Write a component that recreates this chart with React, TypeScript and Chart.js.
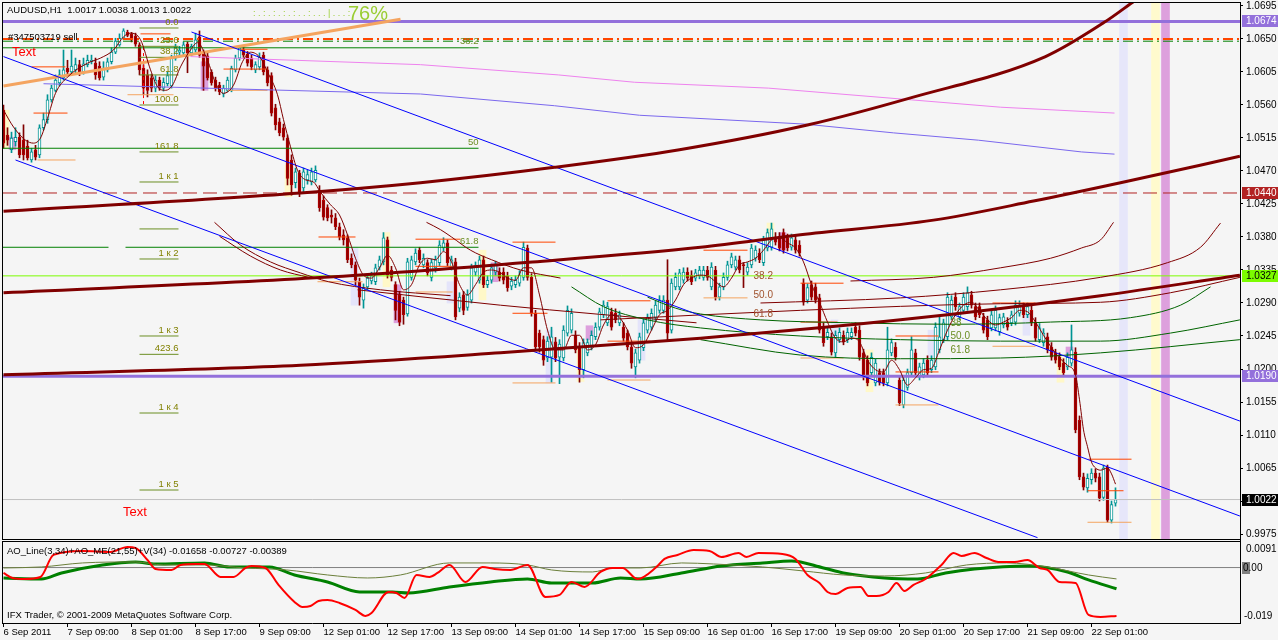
import React, { useEffect, useRef } from "react";
import { Chart, registerables } from "chart.js";

Chart.register(...registerables);

// ---------------- axis labels ----------------
const xTickLabels = ["6 Sep 2011", "7 Sep 09:00", "8 Sep 01:00", "8 Sep 17:00", "9 Sep 09:00", "12 Sep 01:00", "12 Sep 17:00", "13 Sep 09:00", "14 Sep 01:00", "14 Sep 17:00", "15 Sep 09:00", "16 Sep 01:00", "16 Sep 17:00", "19 Sep 09:00", "20 Sep 01:00", "20 Sep 17:00", "21 Sep 09:00", "22 Sep 01:00"];
const yTickValues = [0.9975, 1.0020, 1.0065, 1.0110, 1.0155, 1.0200, 1.0245, 1.0290, 1.0335, 1.0380, 1.0425, 1.0470, 1.0515, 1.0560, 1.0605, 1.0650, 1.0695];

// ---------------- AUDUSD H1 candles ----------------
const opens = [
1.0553,1.0519,1.0499,1.0510,1.0516,1.0512,1.0504,1.0485,1.0499,1.0492,
1.0529,1.0540,1.0567,1.0580,1.0590,1.0597,1.0610,1.0605,1.0608,1.0615,
1.0605,1.0615,1.0619,1.0617,1.0613,1.0598,1.0608,1.0619,1.0632,1.0642,
1.0651,1.0659,1.0657,1.0654,1.0642,1.0610,1.0601,1.0597,1.0583,1.0594,
1.0583,1.0589,1.0586,1.0624,1.0632,1.0631,1.0643,1.0631,1.0635,1.0653,
1.0629,1.0627,1.0605,1.0594,1.0587,1.0575,1.0580,1.0580,1.0608,1.0624,
1.0635,1.0629,1.0624,1.0608,1.0612,1.0628,1.0608,1.0600,1.0556,1.0537,
1.0529,1.0515,1.0485,1.0454,1.0467,1.0447,1.0458,1.0455,1.0458,1.0444,
1.0430,1.0420,1.0410,1.0406,1.0394,1.0383,1.0379,1.0351,1.0342,1.0319,
1.0294,1.0312,1.0320,1.0319,1.0339,1.0346,1.0376,1.0335,1.0315,1.0301,
1.0294,1.0275,1.0325,1.0346,1.0362,1.0342,1.0345,1.0325,1.0338,1.0345,
1.0365,1.0372,1.0339,1.0346,1.0283,1.0301,1.0284,1.0294,1.0332,1.0321,
1.0349,1.0315,1.0321,1.0332,1.0332,1.0332,1.0327,1.0313,1.0315,1.0317,
1.0325,1.0365,1.0325,1.0276,1.0249,1.0240,1.0215,1.0216,1.0237,1.0216,
1.0215,1.0249,1.0253,1.0246,1.0230,1.0199,1.0222,1.0230,1.0244,1.0257,
1.0274,1.0263,1.0278,1.0276,1.0263,1.0257,1.0249,1.0230,1.0203,1.0212,
1.0229,1.0253,1.0257,1.0270,1.0280,1.0280,1.0294,1.0253,1.0312,1.0312,
1.0321,1.0332,1.0328,1.0324,1.0327,1.0325,1.0335,1.0312,1.0335,1.0298,
1.0312,1.0325,1.0342,1.0339,1.0349,1.0342,1.0332,1.0342,1.0351,1.0358,
1.0345,1.0365,1.0366,1.0380,1.0380,1.0386,1.0379,1.0366,1.0376,1.0369,
1.0317,1.0294,1.0315,1.0312,1.0297,1.0257,1.0244,1.0244,1.0222,1.0240,
1.0246,1.0240,1.0244,1.0257,1.0253,1.0222,1.0212,1.0195,1.0181,1.0195,
1.0195,1.0181,1.0222,1.0230,1.0185,1.0151,1.0175,1.0195,1.0222,1.0189,
1.0192,1.0212,1.0199,1.0203,1.0226,1.0240,1.0244,1.0271,1.0298,1.0271,
1.0280,1.0285,1.0301,1.0285,1.0285,1.0271,1.0267,1.0256,1.0256,1.0251,
1.0260,1.0264,1.0263,1.0264,1.0276,1.0285,1.0274,1.0280,1.0264,1.0240,
1.0236,1.0244,1.0230,1.0222,1.0216,1.0208,1.0203,1.0208,1.0223,1.0130,
1.0053,1.0038,1.0049,1.0058,1.0053,1.0025,1.0066,0.9994,1.0017];
const highs = [
1.0560,1.0529,1.0523,1.0529,1.0522,1.0533,1.0512,1.0501,1.0505,1.0533,
1.0549,1.0574,1.0587,1.0601,1.0608,1.0635,1.0621,1.0635,1.0624,1.0621,
1.0624,1.0628,1.0628,1.0624,1.0619,1.0619,1.0624,1.0638,1.0651,1.0657,
1.0664,1.0662,1.0659,1.0658,1.0645,1.0615,1.0608,1.0602,1.0600,1.0598,
1.0597,1.0605,1.0628,1.0643,1.0640,1.0646,1.0646,1.0643,1.0658,1.0661,
1.0635,1.0632,1.0608,1.0598,1.0591,1.0587,1.0598,1.0613,1.0628,1.0640,
1.0639,1.0633,1.0628,1.0619,1.0631,1.0632,1.0612,1.0604,1.0561,1.0542,
1.0534,1.0519,1.0492,1.0474,1.0471,1.0474,1.0471,1.0474,1.0477,1.0450,
1.0436,1.0424,1.0417,1.0412,1.0399,1.0390,1.0383,1.0357,1.0346,1.0324,
1.0316,1.0330,1.0332,1.0343,1.0354,1.0386,1.0380,1.0340,1.0319,1.0306,
1.0298,1.0351,1.0354,1.0364,1.0366,1.0357,1.0349,1.0350,1.0354,1.0375,
1.0379,1.0376,1.0354,1.0351,1.0304,1.0306,1.0308,1.0343,1.0346,1.0354,
1.0354,1.0327,1.0343,1.0347,1.0338,1.0338,1.0332,1.0325,1.0327,1.0334,
1.0373,1.0369,1.0330,1.0280,1.0253,1.0245,1.0244,1.0257,1.0243,1.0240,
1.0259,1.0286,1.0282,1.0252,1.0236,1.0241,1.0241,1.0252,1.0263,1.0283,
1.0293,1.0291,1.0283,1.0282,1.0279,1.0263,1.0253,1.0236,1.0227,1.0249,
1.0268,1.0275,1.0282,1.0293,1.0300,1.0300,1.0349,1.0323,1.0331,1.0336,
1.0338,1.0338,1.0334,1.0336,1.0340,1.0340,1.0340,1.0345,1.0340,1.0317,
1.0331,1.0347,1.0358,1.0354,1.0354,1.0345,1.0345,1.0370,1.0368,1.0364,
1.0381,1.0391,1.0399,1.0386,1.0386,1.0391,1.0384,1.0384,1.0381,1.0375,
1.0323,1.0316,1.0320,1.0317,1.0302,1.0263,1.0256,1.0249,1.0252,1.0256,
1.0252,1.0256,1.0256,1.0263,1.0259,1.0227,1.0218,1.0222,1.0214,1.0200,
1.0200,1.0257,1.0241,1.0236,1.0191,1.0191,1.0200,1.0244,1.0227,1.0208,
1.0214,1.0218,1.0218,1.0263,1.0271,1.0268,1.0304,1.0300,1.0304,1.0290,
1.0304,1.0312,1.0306,1.0290,1.0290,1.0276,1.0272,1.0279,1.0286,1.0275,
1.0276,1.0270,1.0279,1.0293,1.0293,1.0290,1.0290,1.0286,1.0270,1.0262,
1.0255,1.0249,1.0236,1.0227,1.0222,1.0214,1.0222,1.0260,1.0229,1.0136,
1.0058,1.0057,1.0064,1.0064,1.0058,1.0069,1.0069,1.0020,1.0038];
const lows = [
1.0501,1.0505,1.0495,1.0504,1.0488,1.0485,1.0485,1.0482,1.0485,1.0488,
1.0526,1.0535,1.0564,1.0578,1.0586,1.0594,1.0601,1.0601,1.0604,1.0600,
1.0602,1.0612,1.0616,1.0595,1.0594,1.0594,1.0605,1.0616,1.0630,1.0640,
1.0649,1.0653,1.0646,1.0640,1.0601,1.0574,1.0571,1.0578,1.0578,1.0580,
1.0579,1.0586,1.0583,1.0621,1.0628,1.0628,1.0604,1.0627,1.0632,1.0625,
1.0580,1.0594,1.0587,1.0579,1.0574,1.0571,1.0578,1.0578,1.0605,1.0621,
1.0625,1.0613,1.0608,1.0604,1.0608,1.0601,1.0586,1.0545,1.0526,1.0518,
1.0512,1.0451,1.0437,1.0447,1.0435,1.0441,1.0452,1.0451,1.0455,1.0415,
1.0403,1.0402,1.0399,1.0390,1.0376,1.0369,1.0345,1.0338,1.0315,1.0287,
1.0283,1.0308,1.0316,1.0315,1.0335,1.0342,1.0324,1.0320,1.0267,1.0259,
1.0261,1.0272,1.0321,1.0342,1.0345,1.0338,1.0327,1.0320,1.0332,1.0341,
1.0361,1.0341,1.0335,1.0267,1.0278,1.0274,1.0280,1.0290,1.0327,1.0317,
1.0311,1.0311,1.0317,1.0328,1.0320,1.0316,1.0306,1.0308,1.0311,1.0313,
1.0321,1.0321,1.0272,1.0226,1.0223,1.0205,1.0210,1.0182,1.0210,1.0180,
1.0211,1.0245,1.0249,1.0222,1.0182,1.0188,1.0218,1.0226,1.0240,1.0253,
1.0270,1.0259,1.0253,1.0263,1.0259,1.0238,1.0226,1.0201,1.0188,1.0208,
1.0225,1.0249,1.0253,1.0266,1.0276,1.0276,1.0240,1.0249,1.0308,1.0308,
1.0317,1.0320,1.0315,1.0320,1.0323,1.0321,1.0321,1.0308,1.0294,1.0294,
1.0308,1.0321,1.0338,1.0335,1.0331,1.0311,1.0328,1.0338,1.0347,1.0345,
1.0341,1.0361,1.0362,1.0369,1.0361,1.0358,1.0361,1.0362,1.0358,1.0354,
1.0287,1.0290,1.0294,1.0290,1.0249,1.0231,1.0240,1.0219,1.0216,1.0236,
1.0233,1.0236,1.0240,1.0245,1.0212,1.0185,1.0177,1.0191,1.0177,1.0178,
1.0177,1.0177,1.0218,1.0212,1.0150,1.0147,1.0171,1.0191,1.0191,1.0185,
1.0188,1.0191,1.0195,1.0199,1.0222,1.0236,1.0240,1.0267,1.0280,1.0267,
1.0276,1.0280,1.0283,1.0267,1.0270,1.0249,1.0240,1.0252,1.0252,1.0246,
1.0256,1.0253,1.0259,1.0260,1.0272,1.0270,1.0270,1.0259,1.0238,1.0236,
1.0231,1.0222,1.0212,1.0208,1.0199,1.0191,1.0199,1.0204,1.0113,1.0049,
1.0035,1.0032,1.0043,1.0046,1.0020,1.0021,0.9991,0.9990,1.0013];
const closes = [
1.0508,1.0512,1.0515,1.0516,1.0492,1.0492,1.0488,1.0496,1.0489,1.0529,
1.0540,1.0567,1.0583,1.0594,1.0601,1.0608,1.0605,1.0613,1.0615,1.0604,
1.0616,1.0621,1.0621,1.0601,1.0597,1.0610,1.0619,1.0632,1.0647,1.0651,
1.0661,1.0655,1.0649,1.0643,1.0608,1.0583,1.0580,1.0583,1.0594,1.0583,
1.0591,1.0600,1.0625,1.0639,1.0635,1.0642,1.0631,1.0640,1.0649,1.0628,
1.0613,1.0597,1.0590,1.0583,1.0578,1.0583,1.0594,1.0610,1.0624,1.0638,
1.0628,1.0617,1.0612,1.0615,1.0625,1.0605,1.0590,1.0549,1.0533,1.0522,
1.0516,1.0460,1.0451,1.0469,1.0441,1.0469,1.0465,1.0469,1.0471,1.0420,
1.0407,1.0406,1.0407,1.0394,1.0380,1.0376,1.0349,1.0342,1.0321,1.0298,
1.0311,1.0324,1.0327,1.0338,1.0349,1.0379,1.0328,1.0325,1.0280,1.0264,
1.0274,1.0346,1.0349,1.0358,1.0349,1.0351,1.0331,1.0345,1.0349,1.0369,
1.0372,1.0345,1.0349,1.0271,1.0298,1.0280,1.0301,1.0338,1.0341,1.0349,
1.0315,1.0321,1.0338,1.0342,1.0324,1.0321,1.0311,1.0320,1.0321,1.0328,
1.0366,1.0325,1.0276,1.0230,1.0230,1.0212,1.0238,1.0244,1.0215,1.0234,
1.0253,1.0280,1.0276,1.0226,1.0199,1.0236,1.0236,1.0246,1.0257,1.0278,
1.0287,1.0285,1.0257,1.0267,1.0274,1.0242,1.0230,1.0208,1.0222,1.0244,
1.0263,1.0270,1.0276,1.0287,1.0294,1.0294,1.0249,1.0317,1.0325,1.0331,
1.0332,1.0324,1.0319,1.0331,1.0335,1.0335,1.0325,1.0339,1.0298,1.0312,
1.0325,1.0342,1.0353,1.0349,1.0335,1.0341,1.0339,1.0365,1.0362,1.0349,
1.0376,1.0386,1.0391,1.0373,1.0365,1.0362,1.0365,1.0379,1.0362,1.0358,
1.0291,1.0311,1.0298,1.0294,1.0253,1.0236,1.0250,1.0223,1.0246,1.0250,
1.0237,1.0250,1.0250,1.0249,1.0216,1.0189,1.0181,1.0216,1.0208,1.0182,
1.0181,1.0226,1.0236,1.0216,1.0154,1.0185,1.0195,1.0226,1.0195,1.0203,
1.0208,1.0195,1.0212,1.0257,1.0244,1.0263,1.0298,1.0294,1.0285,1.0285,
1.0298,1.0304,1.0287,1.0271,1.0274,1.0253,1.0244,1.0274,1.0280,1.0270,
1.0271,1.0257,1.0274,1.0287,1.0287,1.0274,1.0285,1.0263,1.0242,1.0256,
1.0249,1.0226,1.0216,1.0212,1.0203,1.0195,1.0216,1.0226,1.0117,1.0053,
1.0039,1.0051,1.0058,1.0051,1.0024,1.0065,0.9994,1.0015,1.0022];

// smoothed price line [bar, price]
const maLine = [[0,1.0553],[2.5,1.0530],[5.5,1.0512],[7.5,1.0508],[9.25,1.0515],[11,1.0542],[13,1.0576],[16,1.0598],[21,1.0617],[24.25,1.0624],[27.5,1.0635],[30,1.0653],[31.75,1.0658],[34.25,1.0649],[36.75,1.0608],[38.5,1.0585],[40.5,1.0580],[42.25,1.0587],[44.25,1.0612],[46.75,1.0635],[48.5,1.0645],[51,1.0621],[53,1.0590],[55,1.0576],[57.5,1.0587],[59.75,1.0619],[61.75,1.0632],[64.25,1.0624],[66,1.0605],[68.5,1.0574],[70,1.0540],[71.75,1.0503],[73.5,1.0471],[75.5,1.0458],[77.5,1.0455],[79.25,1.0441],[81.75,1.0424],[84,1.0410],[86,1.0383],[88,1.0351],[90,1.0328],[92,1.0324],[94,1.0338],[96,1.0355],[98,1.0338],[100,1.0308],[102,1.0315],[104,1.0342],[106,1.0351],[108,1.0349],[110,1.0360],[112,1.0346],[114,1.0315],[116,1.0301],[118,1.0315],[120,1.0332],[122,1.0335],[124,1.0332],[126,1.0324],[128,1.0321],[130,1.0338],[132,1.0338],[134,1.0301],[136,1.0253],[138,1.0226],[140,1.0226],[142,1.0246],[144,1.0246],[146,1.0226],[148,1.0233],[150,1.0260],[152,1.0274],[154,1.0270],[156,1.0253],[158,1.0229],[160,1.0233],[162,1.0253],[164,1.0274],[166,1.0280],[168,1.0294],[170,1.0315],[172,1.0324],[174,1.0328],[176,1.0327],[178,1.0319],[180,1.0312],[182,1.0324],[184,1.0342],[186,1.0346],[188,1.0351],[190,1.0362],[192,1.0376],[194,1.0379],[196,1.0372],[198,1.0365],[200,1.0346],[202,1.0315],[204,1.0291],[206,1.0264],[208,1.0242],[210,1.0237],[212,1.0242],[214,1.0237],[216,1.0212],[218,1.0199],[220,1.0196],[222,1.0212],[224,1.0199],[226,1.0178],[228,1.0188],[230,1.0199],[232,1.0201],[234,1.0226],[236,1.0253],[238,1.0274],[240,1.0287],[242,1.0291],[244,1.0280],[246,1.0267],[248,1.0260],[250,1.0264],[252,1.0270],[254,1.0280],[256,1.0278],[258,1.0264],[260,1.0246],[262,1.0229],[264,1.0215],[266,1.0205],[268,1.0192],[269,1.0158],[270,1.0117],[271,1.0094],[272,1.0073],[273,1.0065],[274.25,1.0062],[276,1.0065],[277,1.0057],[278,1.0043]];

// ---------------- drawn objects [bar, price] ----------------
const channelA = [[0,1.0626],[309.1,0.99995]];
const channelB = [[47,1.06595],[309.1,1.0129]];
const channelC = [[3,1.0485],[258.5,0.9970]];
const thickArcA = [[0,1.0415],[74.25,1.0440],[104.25,1.0454],[137.75,1.0475],[169,1.0499],[201.25,1.0533],[227,1.0570],[260.5,1.0626],[275,1.0672],[283,1.0703]];
const thickArcB = [[0,1.0304],[80.25,1.0325],[132.25,1.0346],[174.25,1.0366],[199.25,1.0383],[232.5,1.0403],[257.5,1.0429],[279.25,1.0454],[309.1,1.0490]];
const thickArcC = [[0,1.0192],[74.25,1.0205],[124.25,1.0222],[174.25,1.0242],[224.25,1.0267],[274.25,1.0300],[309.1,1.0328]];
const pinkLine = [[46.75,1.0626],[104.25,1.0615],[138.75,1.0601],[157.75,1.0591],[191.25,1.0583],[227,1.0567],[249.25,1.0557],[277.75,1.0549]];
const violetLine = [[10,1.0589],[104.25,1.0575],[137.75,1.0559],[159,1.0546],[200.25,1.0534],[222.5,1.0522],[243.75,1.0512],[269.5,1.0496],[277.75,1.0493]];
const sandyTrend = [[0,1.0586],[99.25,1.0677]];
const greenArc1 = [[161,1.0298],[168,1.0283],[174.25,1.0275],[189.25,1.0267],[211.75,1.0263],[236.75,1.0261],[261.75,1.0264],[281.75,1.0270],[294.25,1.0287],[301.75,1.0312]];
const greenArc2 = [[142,1.0312],[150,1.0285],[161,1.0267],[174.25,1.0256],[199.25,1.0245],[224.25,1.0240],[249.25,1.0238],[274.25,1.0238],[291.75,1.0249],[309.1,1.0267]];
const greenArc3 = [[174.25,1.0240],[199.25,1.0219],[224.25,1.0214],[249.25,1.0215],[274.25,1.0222],[309.1,1.0240]];
const thinArc1 = [[211.75,1.0320],[232.5,1.0325],[249.25,1.0338],[261.75,1.0351],[269.5,1.0365],[274.25,1.0376],[277.5,1.0400]];
const thinArc2 = [[189.25,1.0290],[224.25,1.0297],[249.25,1.0308],[274.25,1.0325],[291,1.0345],[299.25,1.0366],[304.25,1.0399]];
const thinArc3 = [[149.25,1.0267],[199.25,1.0280],[249.25,1.0289],[274.25,1.0291],[291.75,1.0304],[309.1,1.0325]];
const thinArc4 = [[52.75,1.0400],[59.25,1.0369],[66.75,1.0346],[74.25,1.0331],[81.25,1.0319],[94.25,1.0308],[111.75,1.0300]];
const thinArc5 = [[54,1.0381],[61.75,1.0354],[69.25,1.0335],[76.25,1.0325]];
const thinArc6 = [[105.75,1.0400],[109.25,1.0390],[112,1.0380],[116.75,1.0362],[122,1.0349],[129.25,1.0335],[139.25,1.0324]];
const thinArc7 = [[88.5,1.0308],[124.25,1.0287],[173.25,1.0263]];
const fibVertical = [[35,1.0639],[35,1.0560]];

// horizontal levels
const purpleLevels = [1.0674, 1.0190];
const orderLevel = 1.0650;
const orderShadowLevel = 1.0647;
const redDashLevel = 1.0440;
const limeLevel = 1.0327;
const bidLevel = 1.0022;
const greenFibLevels = [1.0638, 1.0501, 1.0366];
const greenFibLabels = ["38.2", "50", "61.8"];
const fibLevels = [1.0665, 1.0640, 1.0625, 1.0601, 1.0560, 1.0496, 1.0455, 1.0391, 1.0350, 1.0245, 1.0220, 1.0140, 1.0035];
const fibLabels = ["0.0", "23.6", "38.2", "61.8", "100.0", "161.8", "1 к 1", "", "1 к 2", "1 к 3", "423.6", "1 к 4", "1 к 5"];
const midFibBrown = [[187.5,1.0327,"38.2"],[187.5,1.0301,"50.0"],[187.5,1.0274,"61.8"]];
const midFibGreen = [[236.75,1.0262,"38"],[236.75,1.0245,"50.0"],[236.75,1.0226,"61.8"]];

// swing segments [startBar, endBar, price]
const pivotHighs = [[7,15.5,1.0612],[34.25,41.75,1.0657],[55,66,1.0609],[59.25,66,1.0636],[7.5,16,1.0549],[78.75,88,1.0380],[103,114.25,1.0377],[103,112.25,1.0340],[127.25,138,1.0373],[127.25,136,1.0276],[151,161.75,1.0293],[151,161.75,1.0238],[175,186,1.0362],[199.25,210,1.0317],[199.25,208.5,1.0264],[223,233.75,1.0245],[223,233.75,1.0196],[247.25,258,1.0290],[271.25,282,1.0077],[271,280,1.0034]];
const pivotLows = [[31,42.5,1.0574],[56,66,1.0580],[8.5,18,1.0485],[78.5,89.75,1.0319],[103,112.25,1.0305],[127.25,138,1.0181],[151,161.75,1.0185],[175,186,1.0297],[199.25,210,1.0215],[223,233.75,1.0151],[247.25,258,1.0231],[271,282,0.9991]];

// candle highlight boxes [bar, low, high, kind]
const highlights = [[0.5,1.0501,1.0553,"y"],[2.25,1.0499,1.0516,"p"],[50.25,1.0580,1.0619,"p"],[71.25,1.0435,1.0478,"y"],[87.75,1.0287,1.0366,"l"],[95.75,1.0312,1.0386,"y"],[98.5,1.0263,1.0315,"p"],[111.75,1.0290,1.0319,"l"],[119.75,1.0294,1.0362,"y"],[122.75,1.0319,1.0345,"p"],[136.5,1.0181,1.0253,"l"],[144.25,1.0183,1.0230,"y"],[146.5,1.0240,1.0259,"p"],[159.5,1.0212,1.0267,"l"],[191.75,1.0380,1.0399,"y"],[194.75,1.0362,1.0386,"p"],[207.75,1.0226,1.0267,"l"],[216.5,1.0169,1.0226,"y"],[232,1.0216,1.0253,"l"],[255.75,1.0246,1.0276,"l"],[264.25,1.0182,1.0216,"y"],[266.5,1.0216,1.0230,"p"]];
// time-zone bands [bar, kind]
const bands = [[280, "l"], [288, "y"], [290.5, "p"]];

// ---------------- oscillator [bar, value] ----------------
const aoRed = [[0,-0.00185],[2.25,-0.00357],[5.25,-0.00391],[9.25,-0.00322],[12.5,0.00432],[19.75,0.00569],[26.75,0.00535],[31,0.00706],[33,0.00672],[36,0.00260],[38,-0.00048],[42,-0.00082],[44.25,0.00089],[48.25,0.00123],[50.25,0.00123],[54.25,-0.00322],[57.5,-0.00322],[60.5,-0.00014],[62,0.00055],[65.5,-0.00014],[68.75,-0.00596],[72.75,-0.01179],[74.75,-0.01350],[76.75,-0.01316],[78.75,-0.01145],[81,-0.01110],[84,-0.01213],[88,-0.01453],[90.5,-0.01659],[92,-0.01556],[96.25,-0.00836],[98.25,-0.00870],[100.25,-0.01042],[103.25,-0.00254],[106.5,-0.00322],[108.5,-0.00185],[111.5,0.00089],[115.5,-0.00494],[119.75,0.00021],[122.75,-0.00048],[126.75,-0.00082],[131,0.00089],[135.5,-0.01008],[139,-0.00939],[142,-0.00494],[145.25,-0.00665],[149.25,-0.00151],[152.25,-0.00014],[154.75,-0.00014],[158.5,-0.00391],[163.25,0.00021],[165.25,0.00295],[168.5,0.00432],[172.5,0.00603],[176.5,0.00569],[179.5,0.00363],[183.75,0.00500],[185.75,0.00363],[188.75,0.00500],[194.75,0.00466],[198,0.00295],[201,-0.00254],[204,-0.00528],[206,-0.00836],[208,-0.00905],[211,-0.00699],[214.25,-0.00665],[216.25,-0.00973],[218.25,-0.00973],[221.25,-0.00836],[223.25,-0.00528],[225.25,-0.00802],[227.5,-0.00596],[230.5,-0.00391],[234.5,0.00089],[237.5,0.00500],[239.5,0.00398],[242.75,0.00500],[245.75,0.00329],[248.75,0.00192],[252.75,0.00192],[256,0.00260],[259,-0.00014],[261,-0.00082],[264,-0.00494],[268,-0.00528],[271.25,-0.01625],[274.25,-0.01693],[278.25,-0.01658]];
const aoGreen = [[0,-0.00357],[9.5,-0.00391],[14.5,-0.00185],[24.75,0.00089],[33,0.00192],[38,0.00123],[50.25,0.00158],[56.5,0.00021],[66.5,0.00021],[72.75,-0.00254],[81,-0.00494],[89,-0.00836],[97.25,-0.00836],[101.25,-0.00870],[111.5,-0.00665],[121.75,-0.00494],[131,-0.00391],[137,-0.00528],[147.25,-0.00528],[154.25,-0.00357],[159.25,-0.00391],[169.5,-0.00185],[179.5,0.00055],[189.75,0.00158],[197,0.00226],[205,-0.00014],[210,-0.00185],[220.25,-0.00357],[228.5,-0.00391],[235.5,-0.00185],[242.75,-0.00048],[256,0.00055],[266,-0.00151],[271.25,-0.00425],[278.25,-0.00727]];
const aoSignal = [[0,-0.00014],[9.5,0.00021],[19.75,0.00158],[33,0.00192],[40,0.00089],[50.25,0.00089],[60.5,-0.00014],[70.75,-0.00082],[81,-0.00254],[91,-0.00357],[99.25,-0.00254],[111.5,0.00158],[121.75,0.00158],[131,0.00089],[137,-0.00082],[147.25,-0.00151],[152.25,-0.00014],[159.25,-0.00014],[169.5,0.00158],[177.5,0.00123],[189.75,0.00021],[200,-0.00117],[210,-0.00254],[220.25,-0.00288],[230.5,-0.00185],[240.75,0.00089],[250.75,0.00158],[261,0.00021],[271.25,-0.00254],[278.25,-0.00389]];

// ---------------- scale geometry ----------------
const X_MIN = -0.125;
const X_MAX = 309.125;
const Y_MAX = 1.070045;
const Y_MIN = 0.985364;
const PANEL_LOW = 0.99682;
const IND_MIN = -0.019;
const IND_MAX = 0.193806;

const BG = "#F5F5F5";
const FONT = "'Liberation Sans', 'DejaVu Sans', sans-serif";
const TEAL = "#009494";
const MAROON = "#800000";
const HL_COLORS = { y: "#FFF8C8", p: "#DDA0DD", l: "#E4E4FA" };
const BAND_COLORS = { y: "#FFFACD", p: "#DDA0DD", l: "#E6E6FA" };
const BAND_WIDTH = { y: 8, p: 4, l: 8 };

const pts = (arr) => arr.map(([x, y]) => ({ x, y }));
const lineDs = (data, color, width, extra = {}) => ({
  type: "line",
  data,
  borderColor: color,
  borderWidth: width,
  pointRadius: 0,
  fill: false,
  tension: 0,
  yAxisID: "y",
  order: 30,
  ...extra,
});
const hLine = (price, color, width, extra = {}, x0 = X_MIN, x1 = X_MAX) =>
  lineDs([{ x: x0, y: price }, { x: x1, y: price }], color, width, extra);
const segData = (segs) => {
  const out = [];
  segs.forEach(([a, b, p]) => {
    out.push({ x: a, y: p }, { x: b, y: p }, { x: b, y: null });
  });
  return out;
};

function buildDatasets() {
  const bull = closes.map((c, i) => c >= opens[i]);
  const ds = [];
  ds.push({
    type: "bar", yAxisID: "y", order: 100, grouped: false,
    data: bands.map(([x]) => ({ x, y: [PANEL_LOW, Y_MAX] })),
    backgroundColor: bands.map(([, k]) => BAND_COLORS[k]),
    barThickness: bands.map(([, k]) => BAND_WIDTH[k]),
  });
  ds.push({
    type: "bar", yAxisID: "y", order: 95, grouped: false, barThickness: 7,
    data: highlights.map(([x, lo, hi]) => ({ x, y: [lo, hi] })),
    backgroundColor: highlights.map((h) => HL_COLORS[h[3]]),
  });
  ds.push({
    type: "bar", yAxisID: "y", order: 60, grouped: false, barThickness: 1,
    data: opens.map((_, i) => ({ x: i, y: [lows[i], highs[i]] })),
    backgroundColor: bull.map((b) => (b ? TEAL : MAROON)),
  });
  ds.push({
    type: "bar", yAxisID: "y", order: 55, grouped: false, barThickness: 3, minBarLength: 1,
    data: opens.map((o, i) => ({ x: i, y: [o, closes[i]] })),
    backgroundColor: bull.map((b) => (b ? "#FFFFFF" : "#8B0000")),
    borderColor: bull.map((b) => (b ? TEAL : "#B80000")),
    borderWidth: 1, borderSkipped: false,
  });
  // horizontal levels
  purpleLevels.forEach((p) => ds.push(hLine(p, "#9370DB", 3, { order: 40 })));
  ds.push(hLine(orderShadowLevel, "#008000", 1, { borderDash: [10, 4, 2, 4], order: 41 }));
  ds.push(hLine(orderLevel, "#FF4500", 2, { borderDash: [10, 4, 2, 4], order: 40 }));
  ds.push(hLine(redDashLevel, "#B22222", 1, { borderDash: [14, 6], order: 40 }));
  ds.push(hLine(limeLevel, "#7CFC00", 1, { order: 40 }));
  ds.push(hLine(bidLevel, "#C0C0C0", 1, { order: 45 }));
  greenFibLevels.forEach((p, k) => {
    if (k === 2) {
      ds.push(lineDs(segData([[X_MIN, 26.25, p], [30.5, 118.75, p]]), "#008000", 1, { order: 40 }));
    } else {
      ds.push(hLine(p, "#008000", 1, { order: 40 }, X_MIN, 118.75));
    }
  });
  ds.push(lineDs(segData(fibLevels.map((p) => [34, 43.75, p])), "#6B8E23", 1, { order: 42 }));
  ds.push(lineDs(pts(fibVertical), "#FF0000", 1, { borderDash: [3, 3], order: 42 }));
  ds.push(lineDs(segData(pivotHighs), "#FF4500", 1, { order: 38 }));
  ds.push(lineDs(segData(pivotLows), "#F4A460", 1, { order: 38 }));
  // trend objects
  ds.push(lineDs(pts(pinkLine), "#EE82EE", 1, { order: 36 }));
  ds.push(lineDs(pts(violetLine), "#7B68EE", 1, { order: 36 }));
  ds.push(lineDs(pts(sandyTrend), "#F4A460", 3, { order: 36 }));
  [greenArc1, greenArc2, greenArc3].forEach((a) =>
    ds.push(lineDs(pts(a), "#006400", 1, { order: 34, cubicInterpolationMode: "monotone" })));
  [thinArc1, thinArc2, thinArc3, thinArc4, thinArc5, thinArc6, thinArc7].forEach((a) =>
    ds.push(lineDs(pts(a), MAROON, 1, { order: 34, cubicInterpolationMode: "monotone" })));
  [channelA, channelB, channelC].forEach((a) => ds.push(lineDs(pts(a), "#0000FF", 1, { order: 33 })));
  [thickArcA, thickArcB, thickArcC].forEach((a) =>
    ds.push(lineDs(pts(a), MAROON, 3, { order: 32, cubicInterpolationMode: "monotone" })));
  ds.push(lineDs(pts(maLine), MAROON, 1, { order: 25, cubicInterpolationMode: "monotone" }));
  // oscillator
  ds.push(lineDs([{ x: X_MIN, y: 0 }, { x: X_MAX, y: 0 }], "#808080", 1, { yAxisID: "y2", order: 50 }));
  ds.push(lineDs(pts(aoGreen), "#008000", 3, { yAxisID: "y2", order: 13, cubicInterpolationMode: "monotone" }));
  ds.push(lineDs(pts(aoSignal), "#6B7F3A", 1, { yAxisID: "y2", order: 12, cubicInterpolationMode: "monotone" }));
  ds.push(lineDs(pts(aoRed), "#FF0000", 2, { yAxisID: "y2", order: 10, cubicInterpolationMode: "monotone" }));
  return ds;
}

const decorPlugin = {
  id: "mtDecor",
  beforeDraw(chart) {
    const { ctx, width, height } = chart;
    ctx.save();
    ctx.fillStyle = BG;
    ctx.fillRect(0, 0, width, height);
    ctx.restore();
  },
  afterDraw(chart) {
    const { ctx } = chart;
    const xs = chart.scales.x;
    const ys = chart.scales.y;
    const y2 = chart.scales.y2;
    const R = chart.chartArea.right;
    ctx.save();
    // panel frames
    ctx.fillStyle = "#000";
    ctx.fillRect(2, 2, R - 2, 1);
    ctx.fillRect(2, 2, 1, 538);
    ctx.fillRect(2, 539, R - 2, 1);
    ctx.fillStyle = BG;
    ctx.fillRect(3, 540, R - 3, 1);
    ctx.fillStyle = "#000";
    ctx.fillRect(2, 541, R - 2, 1);
    ctx.fillRect(2, 541, 1, 83);

    ctx.textBaseline = "middle";
    ctx.textAlign = "left";
    // header
    ctx.font = `9.5px ${FONT}`;
    ctx.fillStyle = "#000";
    ctx.fillText("AUDUSD,H1  1.0017 1.0038 1.0013 1.0022", 7, 10);
    ctx.fillText("#347503719 sell", 8, 37);
    ctx.fillStyle = "#9ACD32";
    ctx.font = `9px ${FONT}`;
    ctx.fillText(": . : . : . : . : . . : . . . | . . . :", 253, 14);
    ctx.font = `20px ${FONT}`;
    ctx.fillText("76%", 348, 14);
    ctx.fillStyle = "#FF0000";
    ctx.font = `13px ${FONT}`;
    ctx.fillText("Text", 12, 52);
    ctx.fillText("Text", 123, 512);

    // fibonacci labels
    ctx.font = `9.5px ${FONT}`;
    ctx.textAlign = "right";
    ctx.fillStyle = "#808000";
    const fx = xs.getPixelForValue(43.75);
    fibLevels.forEach((p, k) => {
      if (fibLabels[k]) ctx.fillText(fibLabels[k], fx, ys.getPixelForValue(p) - 6);
    });
    ctx.fillStyle = "#6B8E23";
    const gx = xs.getPixelForValue(118.75);
    greenFibLevels.forEach((p, k) => ctx.fillText(greenFibLabels[k], gx, ys.getPixelForValue(p) - 6));
    ctx.textAlign = "left";
    ctx.font = `10px ${FONT}`;
    ctx.fillStyle = "#A0522D";
    midFibBrown.forEach(([x, p, t]) => ctx.fillText(t, xs.getPixelForValue(x), ys.getPixelForValue(p)));
    ctx.fillStyle = "#6B8E23";
    midFibGreen.forEach(([x, p, t]) => ctx.fillText(t, xs.getPixelForValue(x), ys.getPixelForValue(p)));

    // right-side price boxes
    const boxes = [
      [purpleLevels[0], "#9370DB", "#FFFFFF"],
      [redDashLevel, "#B22222", "#FFFFFF"],
      [limeLevel, "#7CFC00", "#000000"],
      [purpleLevels[1], "#9370DB", "#FFFFFF"],
      [bidLevel, "#000000", "#FFFFFF"],
    ];
    ctx.font = `10px ${FONT}`;
    boxes.forEach(([p, bg, fg]) => {
      const y = Math.round(ys.getPixelForValue(p));
      ctx.fillStyle = bg;
      ctx.fillRect(R + 2, y - 6, 36, 12);
      ctx.fillStyle = fg;
      ctx.fillText(Number(p).toFixed(4), R + 6, y);
    });

    // oscillator texts
    ctx.fillStyle = "#000";
    ctx.font = `9.5px ${FONT}`;
    ctx.fillText("AO_Line(3,34)+AO_ME(21,55)+V(34) -0.01658 -0.00727 -0.00389", 7, 551);
    ctx.fillText("IFX Trader, © 2001-2009 MetaQuotes Software Corp.", 7, 615);
    ctx.font = `10px ${FONT}`;
    ctx.fillText("0.0091", R + 6, y2.getPixelForValue(0.0091) + 8);
    const zy = Math.round(y2.getPixelForValue(0));
    ctx.fillStyle = "#808080";
    ctx.fillRect(R + 2, zy - 6, 8, 12);
    ctx.fillStyle = "#000";
    ctx.fillText("0.00", R + 3, zy);
    ctx.fillText("-0.019", R + 4, y2.getPixelForValue(-0.019) - 7);
    ctx.restore();
  },
};

export default function App() {
  const ref = useRef(null);
  useEffect(() => {
    document.body.style.margin = "0";
    document.body.style.background = BG;
    const canvas = ref.current;
    if (!canvas) return;
    const chart = new Chart(canvas, {
      type: "line",
      data: { datasets: buildDatasets() },
      plugins: [decorPlugin],
      options: {
        responsive: false,
        animation: false,
        events: [],
        layout: { padding: { left: 3, top: 2, right: 0, bottom: 0 } },
        plugins: { legend: { display: false }, tooltip: { enabled: false } },
        scales: {
          x: {
            type: "linear",
            min: X_MIN,
            max: X_MAX,
            offset: false,
            grid: { display: true, drawOnChartArea: false, drawTicks: true, tickLength: 4, color: "#000", offset: false },
            border: { display: true, color: "#000" },
            afterBuildTicks: (s) => { s.ticks = xTickLabels.map((_, k) => ({ value: k * 16 })); },
            afterFit: (s) => { s.height = 17; s.paddingLeft = 0; s.paddingRight = 0; },
            ticks: {
              autoSkip: false,
              maxRotation: 0,
              minRotation: 0,
              align: "start",
              padding: 0,
              color: "#000",
              font: { family: FONT, size: 9.5 },
              callback: (v) => xTickLabels[Math.round(Number(v) / 16)] ?? "",
            },
          },
          y: {
            type: "linear",
            position: "right",
            min: Y_MIN,
            max: Y_MAX,
            beginAtZero: false,
            grid: { display: true, drawOnChartArea: false, drawTicks: true, tickLength: 3, color: "#000" },
            border: { display: true, color: "#000" },
            afterBuildTicks: (s) => { s.ticks = yTickValues.map((v) => ({ value: v })); },
            afterFit: (s) => { s.width = 38; s.paddingTop = 0; s.paddingBottom = 0; },
            ticks: {
              autoSkip: false,
              padding: 3,
              color: "#000",
              font: { family: FONT, size: 10 },
              callback: (v) => Number(v).toFixed(4),
            },
          },
          y2: {
            type: "linear",
            display: false,
            min: IND_MIN,
            max: IND_MAX,
          },
        },
      },
    });
    return () => chart.destroy();
  }, []);
  return <canvas ref={ref} width={1278} height={640} style={{ display: "block" }} />;
}
